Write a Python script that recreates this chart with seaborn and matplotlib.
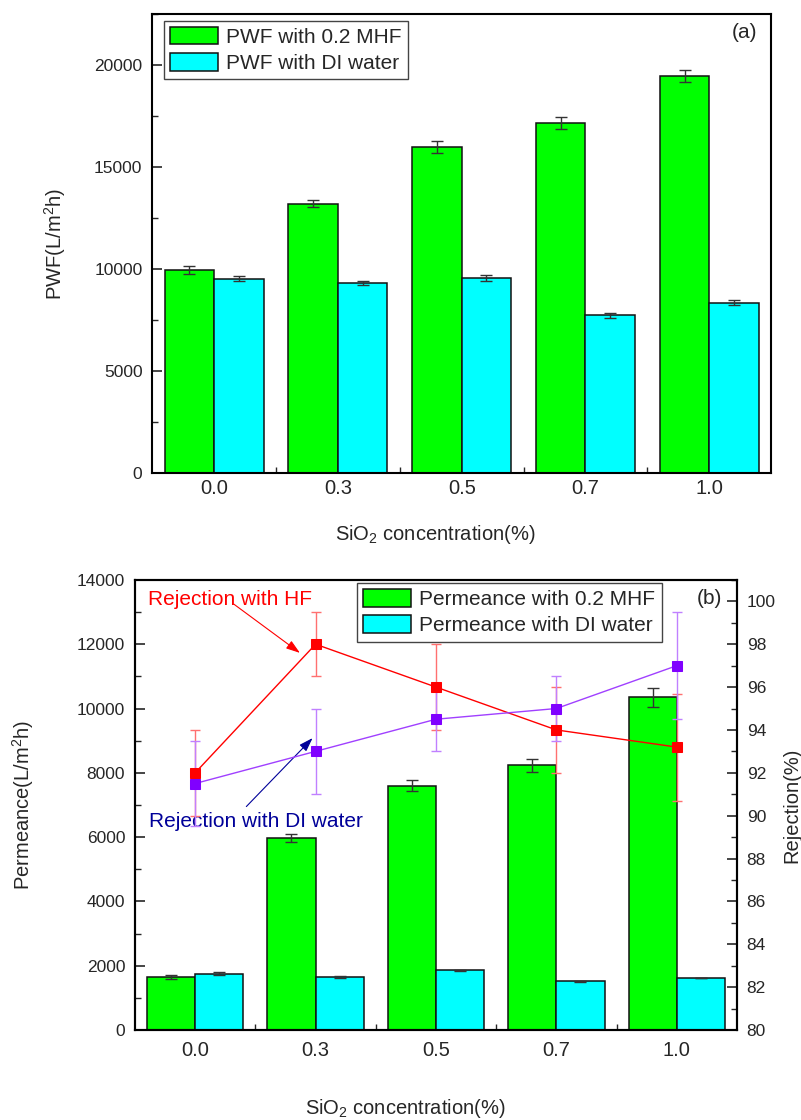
import numpy as np
import pandas as pd
import matplotlib
matplotlib.use('Agg')
import matplotlib.pyplot as plt
import seaborn as sns
from matplotlib.ticker import MultipleLocator

# data
conc = ['0.0', '0.3', '0.5', '0.7', '1.0']

pwf_hf = [9950, 13200, 16000, 17150, 19450]
pwf_hf_err = [200, 170, 290, 300, 300]
pwf_di = [9530, 9300, 9560, 7720, 8340]
pwf_di_err = [140, 90, 140, 120, 120]

perm_hf = [1650, 5980, 7600, 8230, 10350]
perm_hf_err = [50, 130, 170, 200, 290]
perm_di = [1750, 1650, 1850, 1510, 1620]
perm_di_err = [40, 40, 15, 25, 10]

rej_hf = [92.0, 98.0, 96.0, 94.0, 93.2]
rej_hf_err = [2.0, 1.5, 2.0, 2.0, 2.5]
rej_di = [91.5, 93.0, 94.5, 95.0, 97.0]
rej_di_err = [2.0, 2.0, 1.5, 1.5, 2.5]

GREEN = '#00ff00'
CYAN = '#00ffff'

sns.set_style('ticks')
plt.rcParams['font.family'] = ['Liberation Sans', 'DejaVu Sans']
plt.rcParams['mathtext.fontset'] = 'custom'
plt.rcParams['mathtext.rm'] = 'Liberation Sans'
plt.rcParams['mathtext.it'] = 'Liberation Sans:italic'
plt.rcParams['axes.edgecolor'] = 'black'
YFS = 12.5   # y tick labels
XFS = 14.5   # x tick labels
LFS = 14.5   # axis labels
TFS = 15     # legend / annotations


def draw_bars(ax, hf, hf_err, di, di_err, names):
    df = pd.DataFrame({'conc': conc * 2,
                       'value': hf + di,
                       'series': [names[0]] * 5 + [names[1]] * 5})
    sns.barplot(data=df, x='conc', y='value', hue='series', order=conc,
                palette=[GREEN, CYAN], saturation=1, edgecolor='#111111',
                linewidth=1.1, errorbar=None, ax=ax)
    bars = list(ax.containers)
    for cont, err in zip(bars, [hf_err, di_err]):
        xs = [b.get_x() + b.get_width() / 2 for b in cont]
        ys = [b.get_height() for b in cont]
        ax.errorbar(xs, ys, yerr=err, fmt='none', ecolor='#333333',
                    elinewidth=1, capsize=4, capthick=1, zorder=5)


def style_axes(ax, xpad):
    ax.set_xlim(-0.5, 4.5)
    ax.set_xticks(range(5))
    ax.set_xticklabels(conc)
    ax.set_xticks([0.5, 1.5, 2.5, 3.5], minor=True)
    ax.tick_params(axis='x', which='major', length=0, pad=xpad, labelsize=XFS)
    ax.tick_params(axis='x', which='minor', direction='in', length=4, width=1)
    ax.tick_params(axis='y', which='major', direction='in', length=7,
                   width=1.2, pad=7, labelsize=YFS)
    ax.tick_params(axis='y', which='minor', direction='in', length=4, width=1)
    for sp in ax.spines.values():
        sp.set_visible(True)
        sp.set_linewidth(1.5)
        sp.set_color('black')


def make_legend(ax, loc, anchor):
    h, l = ax.get_legend_handles_labels()
    leg = ax.legend(h, l, loc=loc, bbox_to_anchor=anchor,
                    fancybox=False, framealpha=1, edgecolor='#444444',
                    borderaxespad=0, handlelength=2.3, handleheight=0.9,
                    fontsize=TFS, borderpad=0.3, labelspacing=0.3,
                    handletextpad=0.4)
    leg.get_frame().set_linewidth(1)


fig = plt.figure(figsize=(8.01, 11.2), dpi=100)

# ---- (a) PWF ----
ax1 = fig.add_axes([0.190, 0.5777, 0.7728, 0.4098])
draw_bars(ax1, pwf_hf, pwf_hf_err, pwf_di, pwf_di_err,
          ['PWF with 0.2 MHF', 'PWF with DI water'])
style_axes(ax1, 4.5)
ax1.set_ylim(0, 22500)
ax1.yaxis.set_major_locator(MultipleLocator(5000))
ax1.yaxis.set_minor_locator(MultipleLocator(2500))
ax1.set_ylabel('PWF(L/m$\\mathregular{^2}$h)', fontsize=LFS)
ax1.yaxis.set_label_coords(-0.136, 0.5)
ax1.set_xlabel('SiO$\\mathregular{_2}$ concentration(%)', fontsize=LFS)
ax1.xaxis.set_label_coords(0.457, -0.108)
make_legend(ax1, 'upper left', (0.019, 0.985))
ax1.text(4.39, 21570, '(a)', ha='right', va='center', fontsize=TFS)

# ---- (b) Permeance + rejection ----
ax2 = fig.add_axes([0.1685, 0.0804, 0.7516, 0.4018])
draw_bars(ax2, perm_hf, perm_hf_err, perm_di, perm_di_err,
          ['Permeance with 0.2 MHF', 'Permeance with DI water'])
style_axes(ax2, 8)
ax2.set_ylim(0, 14000)
ax2.yaxis.set_major_locator(MultipleLocator(2000))
ax2.yaxis.set_minor_locator(MultipleLocator(1000))
ax2.set_ylabel('Permeance(L/m$\\mathregular{^2}$h)', fontsize=LFS)
ax2.yaxis.set_label_coords(-0.165, 0.5)
ax2.set_xlabel('SiO$\\mathregular{_2}$ concentration(%)', fontsize=LFS)
ax2.xaxis.set_label_coords(0.449, -0.15)
make_legend(ax2, 'upper right', (0.875, 0.993))

ax2.text(-0.39, 13380, 'Rejection with HF', color='#ff0000', ha='left',
         va='center', fontsize=TFS)
ax2.annotate('', xy=(0.87, 11730), xytext=(0.32, 13250),
             arrowprops=dict(arrowstyle='-|>,head_length=0.6,head_width=0.2',
                             color='#ff0000', lw=0.8,
                             mutation_scale=14, shrinkA=0, shrinkB=0))
ax2.text(-0.38, 6470, 'Rejection with DI water', color='#000099', ha='left',
         va='center', fontsize=TFS)
ax2.annotate('', xy=(0.975, 9080), xytext=(0.425, 6950),
             arrowprops=dict(arrowstyle='-|>,head_length=0.6,head_width=0.2',
                             color='#000099', lw=0.8,
                             mutation_scale=14, shrinkA=0, shrinkB=0))
ax2.text(4.38, 13410, '(b)', ha='right', va='center', fontsize=TFS)

ax3 = ax2.twinx()
pos = np.arange(len(conc))
ax3.errorbar(pos, rej_hf, yerr=rej_hf_err, fmt='none', ecolor='#ff7070',
             elinewidth=1, capsize=3.5, capthick=1)
ax3.errorbar(pos, rej_di, yerr=rej_di_err, fmt='none', ecolor='#c080ff',
             elinewidth=1, capsize=3.5, capthick=1)
sns.lineplot(x=pos, y=rej_hf, ax=ax3, color='#ff0000', lw=1, marker='s',
             markersize=7, markeredgecolor='#ff0000', legend=False)
sns.lineplot(x=pos, y=rej_di, ax=ax3, color='#a040ff', lw=1, marker='s',
             markersize=7, markerfacecolor='#8000ff', markeredgecolor='#8000ff',
             legend=False)
ax3.set_ylim(80, 101)
ax3.yaxis.set_major_locator(MultipleLocator(2))
ax3.yaxis.set_minor_locator(MultipleLocator(1))
ax3.tick_params(axis='y', which='major', direction='in', length=7, width=1.2,
                pad=7, labelsize=YFS)
ax3.tick_params(axis='y', which='minor', direction='in', length=4, width=1)
ax3.set_ylabel('Rejection(%)', fontsize=LFS)
ax3.yaxis.set_label_coords(1.076, 0.5)
for sp in ax3.spines.values():
    sp.set_linewidth(1.5)
    sp.set_color('black')

fig.savefig('out.png', dpi=100)
